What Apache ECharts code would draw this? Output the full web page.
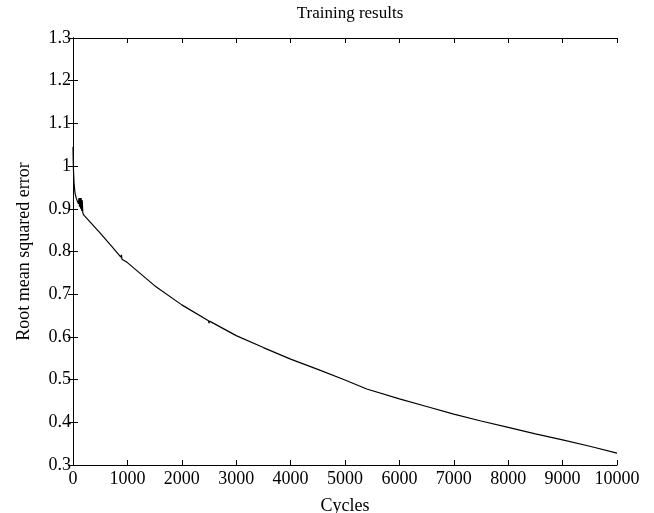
<!DOCTYPE html>
<html>
<head>
<meta charset="UTF-8">
<title>Training results</title>
<script src="https://cdn.jsdelivr.net/npm/echarts@6/dist/echarts.min.js"></script>
<style>
  html, body { margin: 0; padding: 0; background: #fff; }
  #main { width: 654px; height: 513px; }
</style>
</head>
<body>
<div id="main"></div>
<script>
// training curve
var cycles = [0, 5, 10, 20, 30, 40, 60, 80, 100, 110, 120, 130, 140, 150, 160, 170, 180, 200,
  300, 500, 700, 880, 890, 900, 910, 1000, 1500, 2000, 2490, 2500, 2510, 3000, 3500, 4000,
  4500, 5000, 5400, 6000, 6500, 7000, 7500, 8000, 8500, 9000, 9500, 10000];
var rmse = [1.045, 1.01, 0.985, 0.96, 0.945, 0.935, 0.925, 0.918, 0.912, 0.925, 0.905, 0.925, 0.9, 0.925, 0.895, 0.92, 0.89, 0.885,
  0.871, 0.843, 0.814, 0.787, 0.792, 0.782, 0.784, 0.774, 0.72, 0.675, 0.638, 0.632, 0.637, 0.603, 0.575, 0.548,
  0.524, 0.499, 0.478, 0.455, 0.437, 0.419, 0.403, 0.388, 0.373, 0.359, 0.344, 0.328];
var xTicks = [0, 10000, 1000];
var yTicks = [0.3, 1.3, 0.1];

var chart = echarts.init(document.getElementById('main'));
var font = 'Liberation Serif';
var data = [];
for (var i = 0; i < cycles.length; i++) {
  data.push([cycles[i], rmse[i]]);
}
var lineStyle = { color: '#000', width: 1 };
var option = {
  animation: false,
  title: {
    text: 'Training results',
    left: 345, top: 0,
    textAlign: 'center',
    textStyle: { fontFamily: font, fontSize: 17, fontWeight: 'normal', color: '#000' }
  },
  grid: { left: 73, top: 38, right: 37, bottom: 48, containLabel: false, outerBoundsMode: 'none' },
  xAxis: [{
    type: 'value', min: xTicks[0], max: xTicks[1], interval: xTicks[2],
    name: 'Cycles', nameLocation: 'middle', nameGap: 32,
    nameTextStyle: { fontFamily: font, fontSize: 18, color: '#000' },
    axisLine: { lineStyle: lineStyle },
    axisTick: { inside: true, length: 5, lineStyle: lineStyle },
    axisLabel: { fontFamily: font, fontSize: 18, color: '#000', margin: 5,
      formatter: function (v) { return String(v); } },
    splitLine: { show: false }
  }, {
    type: 'value', position: 'top', min: xTicks[0], max: xTicks[1], interval: xTicks[2],
    axisLine: { lineStyle: lineStyle },
    axisTick: { inside: true, length: 5, lineStyle: lineStyle },
    axisLabel: { show: false },
    splitLine: { show: false }
  }],
  yAxis: [{
    type: 'value', min: yTicks[0], max: yTicks[1], interval: yTicks[2],
    name: 'Root mean squared error', nameLocation: 'middle', nameGap: 40,
    nameTextStyle: { fontFamily: font, fontSize: 18, color: '#000' },
    axisLine: { show: true, lineStyle: lineStyle },
    axisTick: { show: true, inside: true, length: 5, lineStyle: lineStyle },
    axisLabel: { fontFamily: font, fontSize: 18, color: '#000', margin: 2,
      formatter: function (v) { return (Math.round(v * 10) / 10).toString(); } },
    splitLine: { show: false }
  }, {
    type: 'value', position: 'right', min: yTicks[0], max: yTicks[1], interval: yTicks[2],
    axisLine: { show: true, lineStyle: lineStyle },
    axisTick: { show: true, inside: true, length: 5, lineStyle: lineStyle },
    axisLabel: { show: false },
    splitLine: { show: false }
  }],
  series: [{
    type: 'line',
    data: data,
    showSymbol: false,
    lineStyle: { color: '#000', width: 1.2 }
  }]
};
chart.setOption(option);
</script>
</body>
</html>
